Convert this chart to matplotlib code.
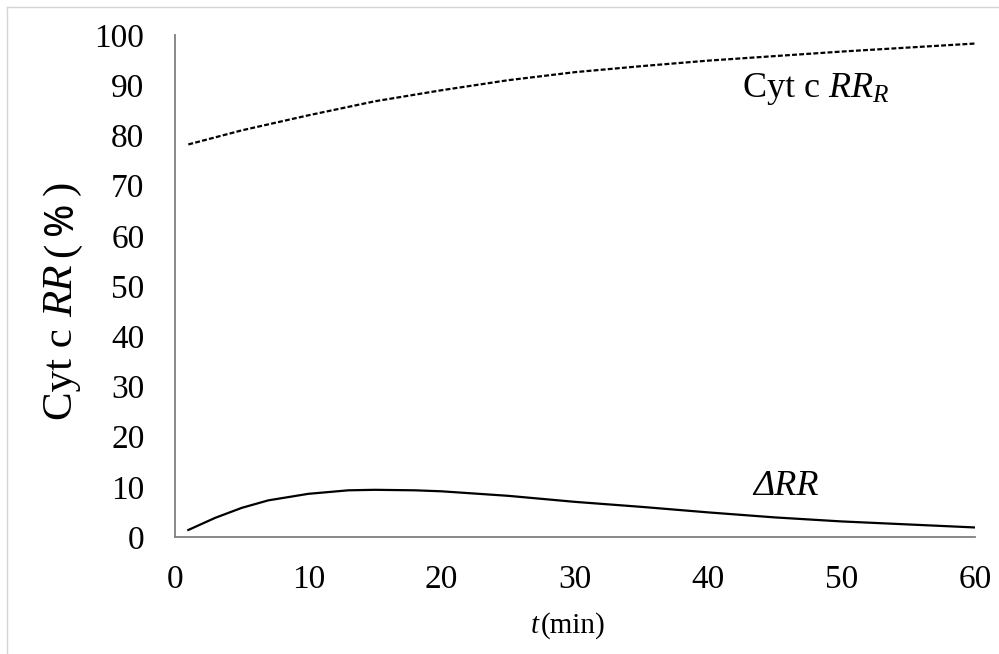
import matplotlib
matplotlib.use('Agg')
import matplotlib.pyplot as plt
from matplotlib.lines import Line2D

# ---- data ----
t_ref = [1, 5, 10, 15, 20, 25, 30, 35, 40, 45, 50, 55, 60]
rr_ref = [78.2, 81.0, 84.0, 86.8, 89.0, 91.0, 92.6, 93.8, 94.9, 95.8, 96.7, 97.5, 98.3]

t_delta = [1, 3, 5, 7, 10, 13, 15, 18, 20, 25, 30, 35, 40, 45, 50, 55, 60]
delta_rr = [1.4, 3.8, 5.8, 7.3, 8.6, 9.3, 9.4, 9.3, 9.1, 8.2, 7.0, 6.0, 4.9, 3.9, 3.1, 2.5, 1.9]

x_ticks = [0, 10, 20, 30, 40, 50, 60]
y_ticks = [0, 10, 20, 30, 40, 50, 60, 70, 80, 90, 100]

label_ref = "Cyt c $RR_R$"
label_delta = "ΔRR"

plt.rcParams['mathtext.fontset'] = 'custom'
plt.rcParams['mathtext.rm'] = 'Liberation Serif'
plt.rcParams['mathtext.it'] = 'Liberation Serif:italic'
plt.rcParams['font.family'] = ['Liberation Serif', 'DejaVu Sans']

W, H = 999, 654
fig = plt.figure(figsize=(W / 100, H / 100), dpi=100)
ax = fig.add_axes([175 / W, 1 - 537 / H, 800 / W, 502 / H])

ax.plot(t_ref, rr_ref, color='black', lw=1.6, linestyle=(0, (2.2, 1.0)))
ax.plot(t_delta, delta_rr, color='black', lw=1.6)

ax.set_xlim(0, 60)
ax.set_ylim(0, 100)
ax.set_xticks(x_ticks)
ax.set_yticks(y_ticks)
ax.tick_params(axis='both', length=0, labelsize=24)
ax.tick_params(axis='y', pad=22)
ax.tick_params(axis='x', pad=20)
for s in ['top', 'right']:
    ax.spines[s].set_visible(False)
for s in ['left', 'bottom']:
    ax.spines[s].set_color('#7f7f7f')
    ax.spines[s].set_linewidth(1.3)

ax.text(42.5, 87.6, label_ref, fontsize=26, ha='left', va='baseline')
ax.text(43.4, 8.4, label_delta, fontsize=26, fontstyle='italic', ha='left', va='baseline')

# figure border
fig.add_artist(Line2D([7 / W, 7 / W], [0, 1 - 7 / H], color='#d4d4d4', lw=1))
fig.add_artist(Line2D([7 / W, 1], [1 - 7 / H, 1 - 7 / H], color='#d4d4d4', lw=1))

fig.canvas.draw()
r = fig.canvas.get_renderer()

# x label: t(min)
xl_pieces = [("t", dict(fontsize=21, fontstyle='italic'), 2),
             ("(min)", dict(fontsize=21), 0)]
x = 531
for txt, kw, gap in xl_pieces:
    tt = fig.text(x / W, (H - 633) / H, txt, ha='left', va='baseline', **kw)
    bb = tt.get_window_extent(r)
    x = bb.x1 + gap

# y label: Cyt c RR(%)
yl_pieces = [("Cyt c", dict(fontsize=31), 11),
             ("RR", dict(fontsize=31, fontstyle='italic'), 8),
             ("(", dict(fontsize=31), 7),
             ("%", dict(fontsize=29, family='Noto Sans', fontweight='semibold'), 7),
             (")", dict(fontsize=31), 0)]
y = H - 420
for txt, kw, gap in yl_pieces:
    tt = fig.text(72 / W, y / H, txt, ha='left', va='baseline', rotation=90,
                  rotation_mode='anchor', **kw)
    bb = tt.get_window_extent(r)
    y = bb.y1 + gap

fig.savefig('out.png', dpi=100)
